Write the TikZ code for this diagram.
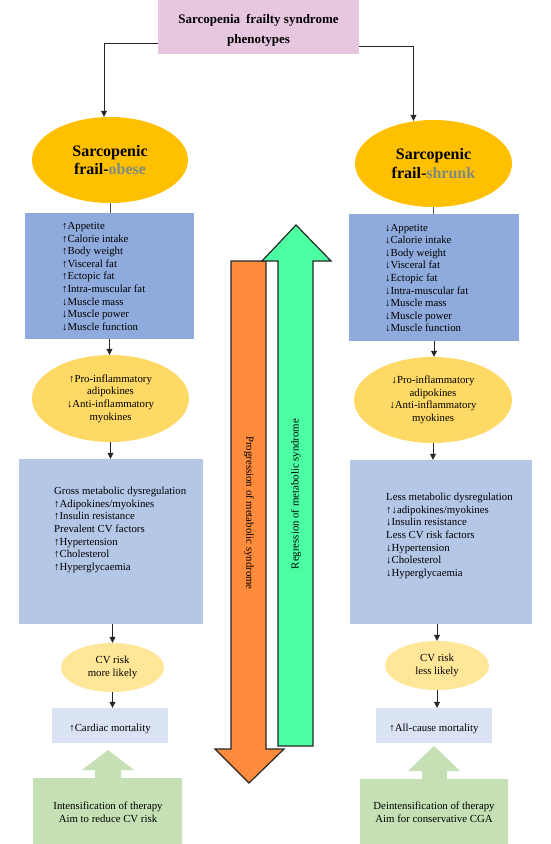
\documentclass[tikz,border=0pt]{standalone}
\usepackage{fontspec}
\setmainfont{Liberation Serif}
\usetikzlibrary{shapes.geometric,arrows.meta}
\definecolor{pinkc}{HTML}{E7C6E0}
\definecolor{gold}{HTML}{FFC000}
\definecolor{sage}{HTML}{7C8A82}
\definecolor{bluemid}{HTML}{8FAADC}
\definecolor{yelmid}{HTML}{FFD966}
\definecolor{bluelight}{HTML}{B4C7E7}
\definecolor{cvyel}{HTML}{FFE699}
\definecolor{mortbox}{HTML}{DAE3F3}
\definecolor{calgreen}{HTML}{C5E0B4}
\definecolor{orangeA}{HTML}{FF8B3D}
\definecolor{greenA}{HTML}{4DFFA3}
\begin{document}
\begin{tikzpicture}[x=1pt,y=-1pt,
  sm/.style={font=\fontsize{10.8}{12.6}\selectfont},
  box/.style={rectangle,inner sep=0pt},
  ell/.style={ellipse,inner sep=0pt,align=center},
  txt/.style={sm,inner sep=0pt},
  conn/.style={draw=black!85,line width=0.8pt,-{Triangle[length=6pt,width=6pt]}},
  plainline/.style={draw=black!70,line width=0.7pt},
  bigline/.style={draw=black!85,line width=1.2pt,line join=miter}]
\useasboundingbox (0,0) rectangle (550,844);
\fill[white] (0,0) rectangle (550,844);

% top box
\node[box,fill=pinkc,minimum width=201pt,minimum height=54pt] (top) at (258.5,27) {};
\node[inner sep=0pt,align=center,font=\bfseries\fontsize{13}{20}\selectfont] (toptxt) at (258.5,30) {Sarcopenia\hspace{0.45em}frailty syndrome\\phenotypes};

% title ellipses
\node[ell,fill=gold,minimum width=156pt,minimum height=86pt,font=\bfseries\fontsize{16}{18.5}\selectfont] (lt) at (110,160) {Sarcopenic\\frail-\textcolor{sage}{obese}};
\node[ell,fill=gold,minimum width=157pt,minimum height=87pt,font=\bfseries\fontsize{16}{18.5}\selectfont] (rt) at (433.5,163.5) {Sarcopenic\\frail-\textcolor{sage}{shrunk}};

% blue boxes
\node[box,fill=bluemid,minimum width=169pt,minimum height=126pt] (lb) at (109.5,276) {};
\node[txt,align=left,anchor=west] (lbt) at (62,276.5) {↑Appetite\\↑Calorie intake\\↑Body weight\\↑Visceral fat\\↑Ectopic fat\\↑Intra-muscular fat\\↓Muscle mass\\↓Muscle power\\↓Muscle function};
\node[box,fill=bluemid,minimum width=170pt,minimum height=127pt] (rb) at (434,277.5) {};
\node[txt,align=left,anchor=west] (rbt) at (385,278) {↓Appetite\\↓Calorie intake\\↓Body weight\\↓Visceral fat\\↓Ectopic fat\\↓Intra-muscular fat\\↓Muscle mass\\↓Muscle power\\↓Muscle function};

% middle ellipses
\node[ell,sm,fill=yelmid,minimum width=157pt,minimum height=87pt] (lm) at (110.5,398.5) {↑Pro-inflammatory\\adipokines\\↓Anti-inflammatory\\myokines};
\node[ell,sm,fill=yelmid,minimum width=158pt,minimum height=86pt] (rm) at (433,400) {↓Pro-inflammatory\\adipokines\\↓Anti-inflammatory\\myokines};

% big boxes
\node[box,fill=bluelight,minimum width=184pt,minimum height=165pt] (lbig) at (111,541.5) {};
\node[txt,align=left,anchor=west] (lbigt) at (54,530) {Gross metabolic dysregulation\\↑Adipokines/myokines\\↑Insulin resistance\\Prevalent CV factors\\↑Hypertension\\↑Cholesterol\\↑Hyperglycaemia};
\node[box,fill=bluelight,minimum width=182pt,minimum height=164pt] (rbig) at (441,542) {};
\node[txt,align=left,anchor=west] (rbigt) at (386,536) {Less metabolic dysregulation\\↑↓adipokines/myokines\\↓Insulin resistance\\Less CV risk factors\\↓Hypertension\\↓Cholesterol\\↓Hyperglycaemia};

% CV ellipses
\node[ell,sm,fill=cvyel,minimum width=103pt,minimum height=49pt] (lcv) at (112.5,667.5) {CV risk\\more likely};
\node[ell,sm,fill=cvyel,minimum width=104pt,minimum height=49pt] (rcv) at (437,665.5) {CV risk\\less likely};

% mortality boxes
\node[box,fill=mortbox,minimum width=116pt,minimum height=35pt] (lcard) at (110,725.5) {};
\node[txt] (lcardt) at (110,729) {↑Cardiac mortality};
\node[box,fill=mortbox,minimum width=116pt,minimum height=35pt] (rall) at (434,725.5) {};
\node[txt] (rallt) at (434,729) {↑All-cause mortality};

% green callouts
\fill[calgreen] (108,750) -- (134,770) -- (121,770) -- (121,778) -- (182,778) -- (182,844) -- (33,844) -- (33,778) -- (95,778) -- (95,770) -- (82,770) -- cycle;
\node[txt,align=center] (lcal) at (108,812) {Intensification of therapy\\Aim to reduce CV risk};
\fill[calgreen] (434,746) -- (460,771) -- (447,771) -- (447,779) -- (508,779) -- (508,844) -- (360,844) -- (360,779) -- (422,779) -- (422,771) -- (408,771) -- cycle;
\node[txt,align=center] (rcal) at (434,812) {Deintensification of therapy\\Aim for conservative CGA};

% big arrows
\draw[bigline,fill=orangeA] (231,261) -- (266,261) -- (266,749) -- (284,749) -- (249,783) -- (215,749) -- (231,749) -- cycle;
\draw[bigline,fill=greenA] (278,746) -- (278,261) -- (262,261) -- (296,225) -- (331,261) -- (313,261) -- (313,746) -- cycle;
\node[txt,rotate=-90] (prog) at (249,513) {Progression of metabolic syndrome};
\node[txt,rotate=90] (regr) at (296,494) {Regression of metabolic syndrome};

% connectors
\draw[conn] ([yshift=11pt]top.south west) -| ([xshift=-6pt]lt.north);
\draw[conn] ([yshift=8pt]top.south east) -| ([xshift=-20pt,yshift=-1pt]rt.north);
\draw[plainline] (lt.south) -- (lt.south |- lb.north);
\draw[plainline] (rt.south) -- (rt.south |- rb.north);
\draw[conn] (lb.south) -- (lb.south |- lm.north);
\draw[conn] (rb.south) -- (rb.south |- rm.north);
\draw[conn] (lm.south) -- (lm.south |- lbig.north);
\draw[conn] (rm.south) -- (rm.south |- rbig.north);
\draw[conn] (lcv.north |- lbig.south) -- (lcv.north);
\draw[conn] (rcv.north |- rbig.south) -- (rcv.north);
\draw[conn] (lcv.south) -- (lcv.south |- lcard.north);
\draw[conn] (rcv.south) -- (rcv.south |- rall.north);
\end{tikzpicture}
\end{document}
